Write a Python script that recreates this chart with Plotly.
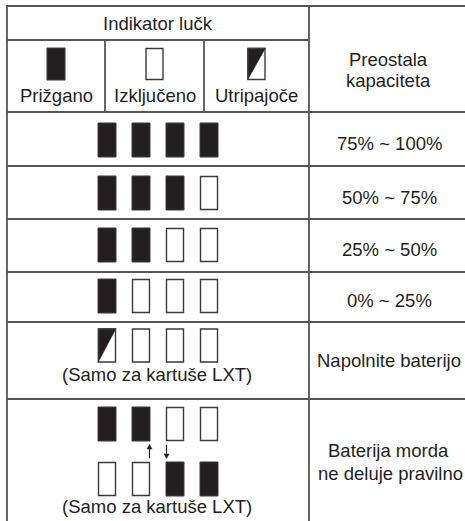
import plotly.graph_objects as go

# ---------------- data ----------------
header_title = "Indikator lučk"
header_right = ["Preostala", "kapaciteta"]
legend_labels = ["Prižgano", "Izključeno", "Utripajoče"]
legend_states = ["on", "off", "blink"]
row_patterns = [
    ["on", "on", "on", "on"],
    ["on", "on", "on", "off"],
    ["on", "on", "off", "off"],
    ["on", "off", "off", "off"],
    ["blink", "off", "off", "off"],
]
capacity_labels = ["75% ~ 100%", "50% ~ 75%", "25% ~ 50%", "0% ~ 25%", "Napolnite baterijo"]
error_top = ["on", "on", "off", "off"]
error_bottom = ["off", "off", "on", "on"]
error_label = ["Baterija morda", "ne deluje pravilno"]
lxt_note = "(Samo za kartuše LXT)"

# ---------------- geometry ----------------
W, H = 465, 521
XL, XR, XDIV = 7, 465, 309
SUBCOLS = [7, 105, 204, 309]
Y_TOP, Y_SUB, Y_HEAD = 6, 40, 112
ROW_EDGES = [112, 166, 219, 272, 322, 399]
LAMP_X = [107, 141, 175, 209]
LAMP_W, LAMP_H = 18, 34
LINE_C = "#555555"
INK = "#231f20"
FONT = "Liberation Sans, Arial, sans-serif"
FS = 18.5

shapes = []
annotations = []


def line(x0, y0, x1, y1, w=1.8):
    shapes.append(dict(type="line", x0=x0, y0=y0, x1=x1, y1=y1,
                       line=dict(color=LINE_C, width=w), layer="above"))


def lamp(cx, cy, state, h=LAMP_H):
    x0, x1 = cx - LAMP_W / 2, cx + LAMP_W / 2
    y0, y1 = cy - h / 2, cy + h / 2
    if state == "on":
        shapes.append(dict(type="rect", x0=x0, x1=x1, y0=y0, y1=y1,
                           fillcolor=INK, line=dict(color="#3a3a3a", width=1)))
    elif state == "off":
        shapes.append(dict(type="rect", x0=x0 + 0.5, x1=x1 - 0.5, y0=y0 + 0.5, y1=y1 - 0.5,
                           fillcolor="white", line=dict(color="#3a3a3a", width=1.4)))
    else:
        shapes.append(dict(type="path",
                           path=f"M{x0},{y0} L{x1},{y0} L{x0},{y1} Z",
                           fillcolor=INK, line=dict(color=INK, width=0.5)))
        shapes.append(dict(type="rect", x0=x0 + 0.5, x1=x1 - 0.5, y0=y0 + 0.5, y1=y1 - 0.5,
                           fillcolor="rgba(0,0,0,0)", line=dict(color="#3a3a3a", width=1.4)))


def text(x, y, s):
    annotations.append(dict(x=x, y=y, text=s, showarrow=False, xanchor="center",
                            yanchor="middle", font=dict(family=FONT, size=FS, color=INK)))


# grid lines
line(XL, Y_TOP - 1, XL, H)          # left border
line(XDIV, Y_TOP, XDIV, H)          # main divider
line(XL, Y_TOP, XR, Y_TOP)          # top border
line(XL, Y_SUB, XDIV, Y_SUB)
for xv in SUBCOLS[1:3]:
    line(xv, Y_SUB, xv, Y_HEAD)
for yv in ROW_EDGES:
    line(XL, yv, XR, yv)

# header
text((XL + XDIV) / 2, 23, header_title)
text(388, 59, header_right[0])
text(388, 80, header_right[1])
for i, (lab, st) in enumerate(zip(legend_labels, legend_states)):
    cx = (SUBCOLS[i] + SUBCOLS[i + 1]) / 2
    lamp(cx, 64, st, h=32)
    text(cx, 95, lab)

# capacity rows
lamp_y = [140, 193, 245, 296, 345.5]
label_y = [143.5, 197, 249.5, 300, 360]
for r, pat in enumerate(row_patterns):
    for cx, st in zip(LAMP_X, pat):
        lamp(cx, lamp_y[r], st)
    text(389, label_y[r], capacity_labels[r])
text(157, 374, lxt_note)

# error row
for cx, st in zip(LAMP_X, error_top):
    lamp(cx, 424, st)
for cx, st in zip(LAMP_X, error_bottom):
    lamp(cx, 479, st)
# arrows (up at end of lamp 2, down at start of lamp 3)
ax_up = LAMP_X[1] + LAMP_W / 2 - 0.5
ax_dn = LAMP_X[2] - LAMP_W / 2 + 0.5
shapes.append(dict(type="line", x0=ax_up, x1=ax_up, y0=458, y1=448, line=dict(color=INK, width=1.2)))
shapes.append(dict(type="path", path=f"M{ax_up - 2.5},{449} L{ax_up + 2.5},{449} L{ax_up},{444.5} Z",
                   fillcolor=INK, line=dict(color=INK, width=0.5)))
shapes.append(dict(type="line", x0=ax_dn, x1=ax_dn, y0=445, y1=455, line=dict(color=INK, width=1.2)))
shapes.append(dict(type="path", path=f"M{ax_dn - 2.5},{454} L{ax_dn + 2.5},{454} L{ax_dn},{458.5} Z",
                   fillcolor=INK, line=dict(color=INK, width=0.5)))
text(157, 506, lxt_note)
text(388, 450, error_label[0])
text(390, 473.5, error_label[1])

fig = go.Figure()
fig.update_layout(
    width=W, height=H, margin=dict(l=0, r=0, t=0, b=0),
    paper_bgcolor="white", plot_bgcolor="white",
    xaxis=dict(range=[0, W], visible=False, fixedrange=True),
    yaxis=dict(range=[H, 0], visible=False, fixedrange=True),
    shapes=shapes, annotations=annotations, showlegend=False,
)
fig.write_html(
    "out.html",
    config={"displayModeBar": False},
    post_script="document.body.style.margin='0';document.body.style.overflow='hidden';",
)
